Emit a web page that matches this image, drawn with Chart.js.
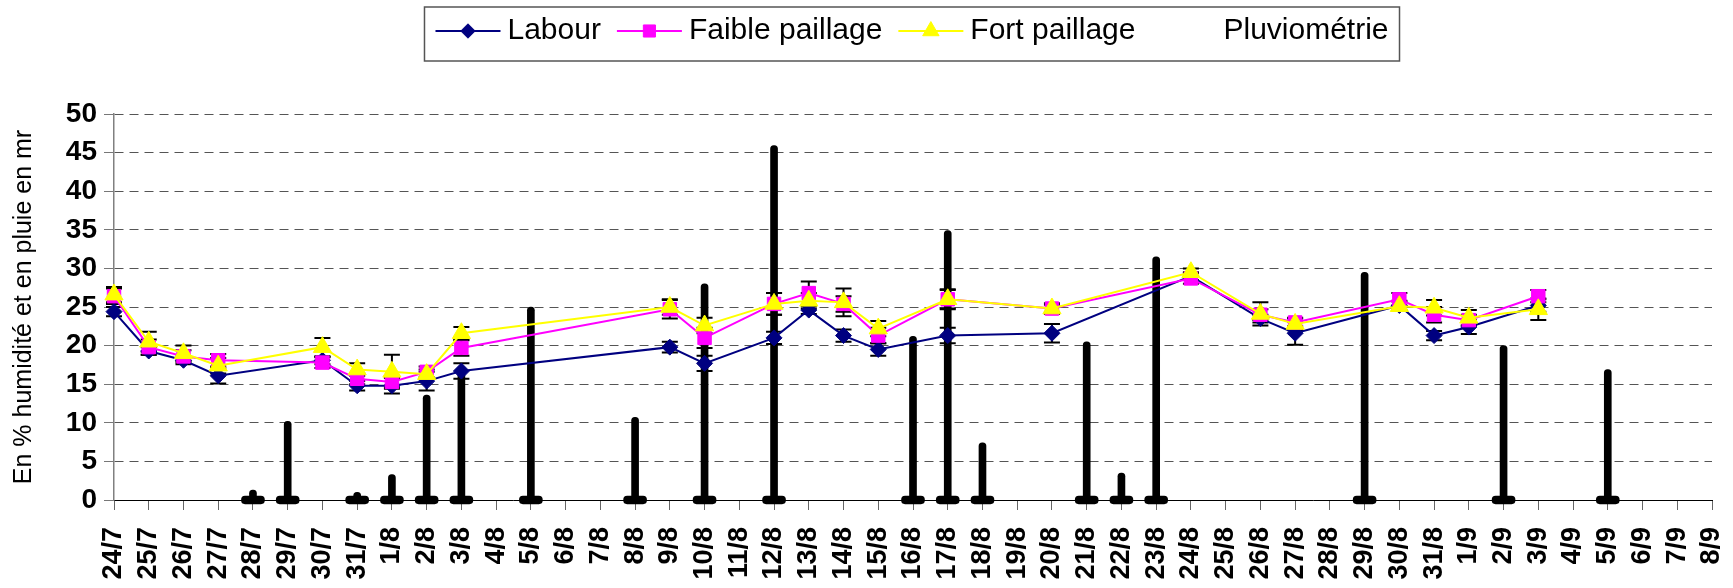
<!DOCTYPE html>
<html>
<head>
<meta charset="utf-8">
<script src="https://cdn.jsdelivr.net/npm/chart.js@4/dist/chart.umd.min.js"></script>
<style>
html, body { margin: 0; padding: 0; background: #fff; }
#wrap { width: 1733px; height: 588px; }
</style>
</head>
<body>
<div id="wrap"><canvas id="c" width="1733" height="588"></canvas></div>
<script>
// ---------- DATA ----------
const categories = ['24/7','25/7','26/7','27/7','28/7','29/7','30/7','31/7',
  '1/8','2/8','3/8','4/8','5/8','6/8','7/8','8/8','9/8','10/8','11/8','12/8','13/8','14/8','15/8','16/8',
  '17/8','18/8','19/8','20/8','21/8','22/8','23/8','24/8','25/8','26/8','27/8','28/8','29/8','30/8','31/8',
  '1/9','2/9','3/9','4/9','5/9','6/9','7/9','8/9'];

const yTicks = [0, 5, 10, 15, 20, 25, 30, 35, 40, 45, 50];

// Days with soil-moisture measurements
const mesureDates = ['24/7','25/7','26/7','27/7','30/7','31/7','1/8','2/8','3/8','9/8','10/8','12/8',
  '13/8','14/8','15/8','17/8','20/8','24/8','26/8','27/8','30/8','31/8','1/9','3/9'];

const labour = [24.4,19.3,18.1,16.1,18.1,14.8,14.8,15.4,16.7,19.8,17.7,21.0,
  24.6,21.3,19.5,21.3,21.6,29.0,23.5,21.6,25.2,21.3,22.4,25.2];
const faiblePaillage = [26.4,19.8,18.6,18.1,17.8,15.7,15.3,16.6,19.7,24.7,21.0,25.4,
  26.8,25.4,21.3,26.0,24.8,28.7,24.0,23.0,26.0,24.0,23.3,26.4];
const fortPaillage = [26.6,20.5,19.0,17.4,19.8,16.9,16.6,16.3,21.6,25.0,22.6,25.4,
  25.8,25.6,22.2,26.0,24.8,29.5,24.1,22.8,25.1,24.9,23.6,24.7];

// Error bar half-lengths
const errLabour = [0.6,0.5,0.5,1.0,0.5,0.6,1.0,1.2,1.0,0.7,1.0,0.8,
  0.5,0.8,0.8,1.0,1.2,0.5,0.5,1.5,0.6,0.6,0.9,0.8];
const errFaible = [1.0,1.0,0.8,0.8,0.7,0.7,0.7,0.7,1.0,1.2,1.3,1.4,
  1.5,1.0,1.0,1.3,0.7,0.7,0.7,0.5,0.8,1.0,0.7,0.8];
const errFort = [1.0,1.3,1.0,1.0,1.2,0.8,2.2,0.6,0.8,1.0,1.0,1.4,
  1.0,1.8,1.0,1.2,0.5,0.5,1.5,0.8,0.6,1.0,1.0,1.4];

// Rainfall
const pluieDates = ['28/7','29/7','31/7','1/8','2/8','3/8','5/8','8/8','10/8','12/8',
  '16/8','17/8','18/8','21/8','22/8','23/8','29/8','2/9','5/9'];
const pluie = [1.3,10.2,1.0,3.3,13.6,17.0,25.0,10.7,28.0,45.9,
  21.2,34.9,7.4,20.5,3.5,31.5,29.5,20.0,16.9];

// ---------- BUILD ----------
const onCategories = (dates, vals) => categories.map(c => {
  const i = dates.indexOf(c);
  return i < 0 ? null : vals[i];
});
const BASE_HALF = 0.5;
const pluieFull = onCategories(pluieDates, pluie);
const baseFull = pluieFull.map(v => v === null ? null : [-BASE_HALF, BASE_HALF]);

const series = [
  { label: 'Labour', vals: labour, err: errLabour, color: '#000080', style: 'rectRot', r: 8, order: 3 },
  { label: 'Faible paillage', vals: faiblePaillage, err: errFaible, color: '#FF00FF', style: 'rect', r: 9.5, order: 2 },
  { label: 'Fort paillage', vals: fortPaillage, err: errFort, color: '#FFFF00', style: 'triangle', r: 10.5, order: 1 }
];

Chart.defaults.font.family = "'Liberation Sans', Arial, sans-serif";
Chart.defaults.color = '#000';

const LEGEND_CENTER_X = 912;
const LEGEND_TOP = 0;
const LEGEND_RESERVED = 62;
const Y_AXIS_WIDTH = 105;
const X_AXIS_HEIGHT = 88;

function drawMarker(ctx, style, x, y, r, color) {
  ctx.save();
  ctx.fillStyle = color; ctx.strokeStyle = color; ctx.lineWidth = 1;
  ctx.beginPath();
  if (style === 'rectRot') {
    ctx.moveTo(x - r, y); ctx.lineTo(x, y - r); ctx.lineTo(x + r, y); ctx.lineTo(x, y + r); ctx.closePath();
  } else if (style === 'rect') {
    const s = r * Math.SQRT1_2; ctx.rect(x - s, y - s, 2 * s, 2 * s);
  } else if (style === 'triangle') {
    const a = 2 * Math.PI / 3;
    ctx.moveTo(x, y - r);
    ctx.lineTo(x + r * Math.sin(a), y - r * Math.cos(a));
    ctx.lineTo(x + r * Math.sin(2 * a), y - r * Math.cos(2 * a));
    ctx.closePath();
  }
  ctx.fill(); ctx.stroke();
  ctx.restore();
}

const errorBarPlugin = {
  id: 'errorBars',
  beforeDatasetsDraw(chart) {
    const { ctx, scales: { x, y } } = chart;
    ctx.save();
    ctx.strokeStyle = '#000';
    ctx.lineWidth = 2;
    series.forEach(s => {
      mesureDates.forEach((d, i) => {
        const idx = categories.indexOf(d);
        const px = x.getPixelForValue(idx);
        const top = y.getPixelForValue(s.vals[i] + s.err[i]);
        const bot = y.getPixelForValue(s.vals[i] - s.err[i]);
        ctx.beginPath();
        ctx.moveTo(px, top); ctx.lineTo(px, bot);
        ctx.moveTo(px - 8, top); ctx.lineTo(px + 8, top);
        ctx.moveTo(px - 8, bot); ctx.lineTo(px + 8, bot);
        ctx.stroke();
      });
    });
    ctx.restore();
  }
};

const legendPlacer = {
  id: 'legendPlacer',
  beforeLayout(chart) {
    const lg = chart.legend;
    if (lg && !lg.__patched) {
      const origFit = lg.fit;
      lg.fit = function () {
        origFit.call(this);
        this.__realHeight = this.height;
        this.height = LEGEND_RESERVED;
      };
      lg.__patched = true;
    }
  },
  afterUpdate(chart) {
    const lg = chart.legend;
    if (!lg || !lg.legendHitBoxes || !lg.legendHitBoxes.length) return;
    const hb = lg.legendHitBoxes;
    const last = hb[hb.length - 1];
    const cl = hb[0].left, cr = last.left + last.width;
    const dx = LEGEND_CENTER_X - (cl + cr) / 2;
    const dy = LEGEND_TOP - lg.top;
    const realH = lg.__realHeight || lg.height;
    lg.left += dx; lg.right += dx;
    lg.top = LEGEND_TOP; lg.height = realH; lg.bottom = LEGEND_TOP + realH;
    hb.forEach(h => { h.left += dx; h.top += dy; });
  },
  afterDraw(chart) {
    const lg = chart.legend;
    if (!lg || !lg.legendHitBoxes || !lg.legendHitBoxes.length) return;
    const ctx = chart.ctx;
    const hb = lg.legendHitBoxes;
    const last = hb[hb.length - 1];
    const cy = hb[0].top + hb[0].height / 2;
    ctx.save();
    ctx.strokeStyle = '#555';
    ctx.lineWidth = 1.5;
    ctx.strokeRect(hb[0].left - 11, cy - 24, (last.left + last.width) - hb[0].left + 22, 54);
    ctx.restore();
    lg.legendItems.forEach((item, k) => {
      const s = series[item.datasetIndex];
      if (!s) return;
      const h = hb[k];
      const y = h.top + h.height / 2;
      ctx.save();
      ctx.strokeStyle = s.color; ctx.lineWidth = 2;
      ctx.beginPath(); ctx.moveTo(h.left, y); ctx.lineTo(h.left + 65, y); ctx.stroke();
      ctx.restore();
      drawMarker(ctx, s.style, h.left + 32.5, y, s.r * 0.9, s.color);
    });
  }
};

const datasets = series.map(s => ({
  type: 'line',
  label: s.label,
  data: onCategories(mesureDates, s.vals),
  borderColor: s.color,
  backgroundColor: s.color,
  pointBackgroundColor: s.color,
  pointBorderColor: s.color,
  borderWidth: 2,
  pointStyle: s.style,
  pointRadius: s.r,
  pointHoverRadius: s.r,
  pointBorderWidth: 1,
  spanGaps: true,
  tension: 0,
  order: s.order,
  clip: false
}));
datasets.push({
  type: 'bar',
  label: 'Pluviométrie',
  data: pluieFull,
  backgroundColor: '#000',
  barThickness: 7,
  borderRadius: 3.5,
  borderSkipped: 'start',
  grouped: false,
  order: 5
});
datasets.push({
  type: 'bar',
  label: 'base',
  data: baseFull,
  backgroundColor: '#000',
  barThickness: 23,
  borderRadius: 4,
  borderSkipped: false,
  grouped: false,
  clip: false,
  order: 4
});

new Chart(document.getElementById('c'), {
  type: 'line',
  data: { labels: categories, datasets },
  options: {
    responsive: false,
    animation: false,
    layout: { padding: { left: 9, right: 21, top: 52, bottom: 0 } },
    plugins: {
      legend: {
        position: 'top',
        labels: {
          boxWidth: 57,
          boxHeight: 2,
          padding: 16,
          font: { size: 30 },
          color: '#000',
          generateLabels(chart) {
            const items = Chart.defaults.plugins.legend.labels.generateLabels(chart);
            items.forEach(it => {
              it.fillStyle = 'rgba(0,0,0,0)';
              it.strokeStyle = 'rgba(0,0,0,0)';
              it.lineWidth = 0;
            });
            return items;
          },
          filter: item => item.datasetIndex !== 4,
          sort: (a, b) => a.datasetIndex - b.datasetIndex
        }
      },
      tooltip: { enabled: false }
    },
    scales: {
      x: {
        type: 'category',
        offset: false,
        afterFit: s => { s.height = X_AXIS_HEIGHT; s.paddingLeft = 0; s.paddingRight = 0; },
        grid: { offset: false, drawOnChartArea: false, drawTicks: true, tickLength: 10, color: '#666', tickColor: '#666' },
        border: { color: '#000', width: 1 },
        ticks: { autoSkip: false, maxRotation: 90, minRotation: 90, padding: 17,
          font: { size: 27, weight: 'bold' }, color: '#000' }
      },
      y: {
        min: yTicks[0],
        max: yTicks[yTicks.length - 1],
        afterBuildTicks: axis => { axis.ticks = yTicks.map(v => ({ value: v })); },
        afterFit: s => { s.width = Y_AXIS_WIDTH; },
        ticks: { padding: 7, font: { size: 28, weight: 'bold' }, color: '#000' },
        grid: {
          color: c => (c.tick && c.tick.value === 0) ? 'rgba(0,0,0,0)' : '#555',
          lineWidth: 1,
          tickLength: 10,
          tickColor: '#777',
          tickBorderDash: []
        },
        border: { color: '#808080', width: 1.5, dash: [9, 6] },
        title: {
          display: true,
          text: 'En % humidité et en pluie en mr',
          font: { size: 25 },
          color: '#000',
          padding: { top: 0, bottom: 27 }
        }
      }
    }
  },
  plugins: [errorBarPlugin, legendPlacer]
});
</script>
</body>
</html>
